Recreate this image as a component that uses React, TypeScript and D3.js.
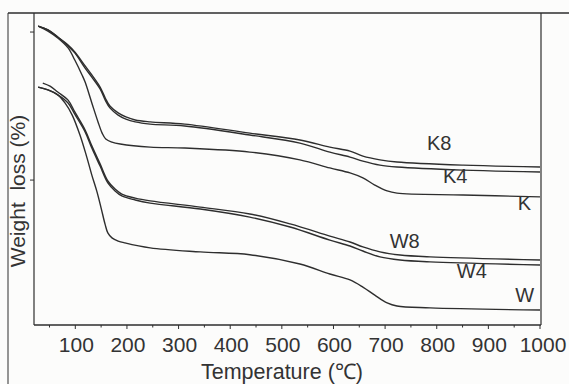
import React from "react";
import * as d3 from "d3";

const xTicks = [100, 200, 300, 400, 500, 600, 700, 800, 900, 1000];
const xMinorTicks = [50, 150, 250, 350, 450, 550, 650, 750, 850, 950];
const yTicks = [94.2, 46.6];

const k8T = [28, 47, 66, 86, 99, 119, 132, 148, 158, 167, 183, 198, 216, 245, 312, 438, 535, 593, 632, 657, 690, 723, 851, 1000];
const k8V = [96.1, 94.9, 92.6, 90.0, 87.8, 83.3, 80.4, 76.5, 73.0, 70.4, 68.2, 66.9, 65.9, 65.3, 64.6, 61.7, 59.5, 57.2, 55.9, 54.3, 53.1, 52.4, 51.4, 50.8];

const k4T = [28, 47, 66, 86, 99, 119, 132, 148, 158, 167, 183, 198, 216, 245, 312, 438, 535, 593, 632, 657, 690, 723, 851, 1000];
const k4V = [96.1, 94.9, 92.6, 89.7, 87.5, 82.6, 79.7, 75.9, 72.3, 69.8, 67.5, 66.2, 65.3, 64.6, 64.0, 61.1, 58.5, 55.6, 54.0, 52.7, 51.4, 50.8, 49.8, 49.2];

const kT = [28, 47, 66, 86, 99, 113, 119, 132, 144, 152, 159, 171, 187, 245, 312, 438, 535, 593, 632, 657, 680, 704, 723, 851, 1000];
const kV = [96.1, 94.5, 92.3, 89.1, 85.2, 80.4, 78.1, 71.4, 65.3, 61.7, 59.8, 58.8, 58.2, 57.2, 56.9, 55.6, 53.1, 50.5, 48.9, 47.3, 45.0, 43.1, 42.4, 41.8, 41.2];

const w8T = [37, 51, 66, 86, 99, 119, 132, 148, 163, 177, 190, 216, 245, 342, 438, 516, 593, 632, 657, 690, 729, 787, 1000];
const w8V = [77.8, 76.8, 74.9, 72.3, 68.5, 62.7, 57.6, 51.8, 46.3, 43.7, 42.1, 40.8, 39.9, 37.9, 35.7, 32.5, 28.6, 26.7, 25.1, 23.5, 22.5, 21.9, 20.9];

const w4T = [28, 47, 66, 86, 99, 119, 132, 148, 163, 177, 190, 216, 245, 342, 438, 516, 593, 632, 657, 690, 729, 787, 1000];
const w4V = [76.5, 75.6, 74.0, 71.4, 67.8, 62.1, 56.9, 51.1, 45.7, 43.1, 41.5, 40.2, 39.2, 37.3, 34.7, 31.5, 27.3, 25.4, 23.8, 21.9, 20.9, 20.3, 19.3];

const wT = [28, 47, 66, 80, 94, 109, 121, 132, 142, 150, 158, 163, 171, 183, 196, 245, 342, 438, 535, 593, 632, 657, 680, 704, 723, 787, 1000];
const wV = [76.5, 75.6, 74.0, 71.4, 67.5, 61.1, 54.7, 48.2, 42.8, 37.6, 32.2, 29.6, 28.0, 27.0, 26.4, 24.8, 23.5, 22.6, 19.6, 16.4, 14.5, 12.2, 9.6, 7.1, 6.1, 5.5, 4.8];

const seriesNames = ["K8", "K4", "K", "W8", "W4", "W"];
const labelT = [781, 812, 957, 709, 839, 952];
const labelV = [56.3, 45.7, 37.0, 24.8, 15.1, 7.4];

const W = 569;
const H = 384;
const left = 34;
const right = 540;
const top = 14;
const bottom = 325;
const ink = "#2e2e2e";
const font = "'Liberation Sans', Arial, sans-serif";

export default function App() {
  const x = d3.scaleLinear().domain([20, 1000]).range([left, right]);
  const y = d3.scaleLinear().domain([0, 100]).range([bottom, top]);
  const line = d3
    .line<[number, number]>()
    .x((d) => x(d[0]))
    .y((d) => y(d[1]))
    .curve(d3.curveCatmullRom.alpha(0.5));

  const series = [
    [k8T, k8V],
    [k4T, k4V],
    [kT, kV],
    [w8T, w8V],
    [w4T, w4V],
    [wT, wV],
  ].map(([t, v]) => t.map((tt, i) => [tt, v[i]] as [number, number]));

  return (
    <svg
      width={W}
      height={H}
      style={{ position: "absolute", left: 0, top: 0, background: "#fcfcfb" }}
    >
      <rect x={0} y={0} width={W} height={H} fill="#fcfcfb" />
      <line x1={8} y1={13} x2={W} y2={13} stroke={ink} strokeWidth={1.6} />
      <line x1={8} y1={13} x2={8} y2={H} stroke={ink} strokeWidth={1} />
      <line x1={left} y1={13} x2={left} y2={bottom} stroke={ink} strokeWidth={1.2} />
      <line x1={right + 1} y1={13} x2={right + 1} y2={bottom} stroke={ink} strokeWidth={1.2} />
      <line x1={left} y1={bottom} x2={right + 1} y2={bottom} stroke={ink} strokeWidth={1.4} />
      {xTicks.map((t) => (
        <line key={"mj" + t} x1={x(t)} x2={x(t)} y1={bottom} y2={bottom + 4} stroke={ink} strokeWidth={1} />
      ))}
      {xMinorTicks.map((t) => (
        <line key={"mn" + t} x1={x(t)} x2={x(t)} y1={bottom} y2={bottom + 2.5} stroke={ink} strokeWidth={1} />
      ))}
      {yTicks.map((v) => (
        <line key={"yt" + v} x1={left - 4} x2={left} y1={y(v)} y2={y(v)} stroke={ink} strokeWidth={1} />
      ))}
      {xTicks.map((t) => (
        <text
          key={"lb" + t}
          x={x(t) + (t === 1000 ? 3 : 1)}
          y={352}
          textAnchor="middle"
          fontFamily={font}
          fontSize={21}
          fill="#333"
        >
          {t}
        </text>
      ))}
      <text x={282} y={379} textAnchor="middle" fontFamily={font} fontSize={21.5} fill="#333">
        Temperature (℃)
      </text>
      <text
        transform={`translate(25,191) rotate(-90)`}
        textAnchor="middle"
        fontFamily={font}
        fontSize={21}
        fill="#333"
        style={{ whiteSpace: "pre" }}
      >
        {"Weight  loss (%)"}
      </text>
      {series.map((s, i) => (
        <path key={seriesNames[i]} d={line(s) || ""} fill="none" stroke={ink} strokeWidth={1.4} />
      ))}
      {seriesNames.map((n, i) => (
        <text
          key={"sl" + n}
          x={x(labelT[i])}
          y={y(labelV[i])}
          fontFamily={font}
          fontSize={20}
          fill="#333"
        >
          {n}
        </text>
      ))}
    </svg>
  );
}
